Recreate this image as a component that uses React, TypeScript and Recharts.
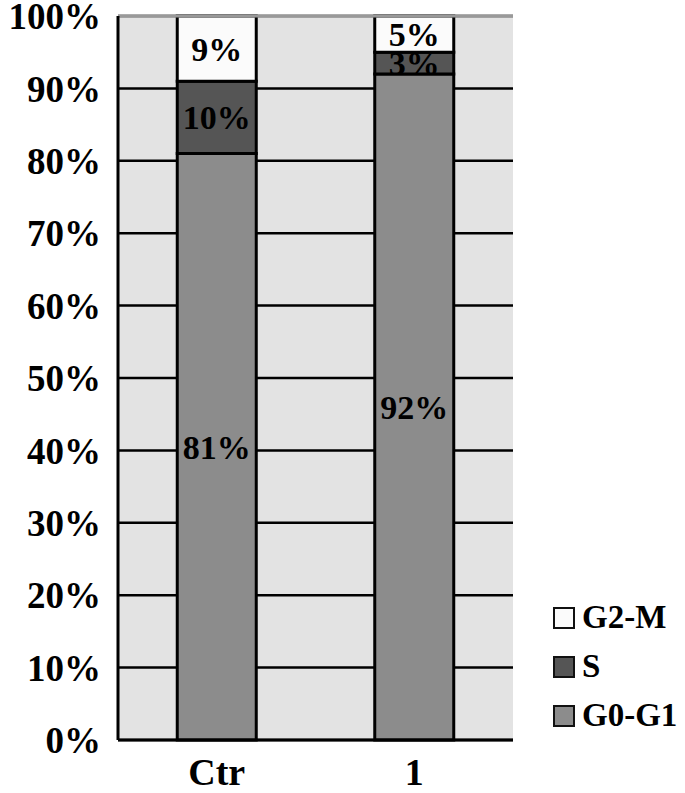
import { BarChart, Bar, XAxis, YAxis, CartesianGrid, ReferenceLine, LabelList } from 'recharts';

const groups = ['Ctr', '1'];
const g0g1 = [81, 92];
const sPhase = [10, 3];
const g2m = [9, 5];
const yTicks = [0, 10, 20, 30, 40, 50, 60, 70, 80, 90, 100];

const phases = [
  { key: 'g0g1', name: 'G0-G1', fill: '#8c8c8c' },
  { key: 's', name: 'S', fill: '#555555' },
  { key: 'g2m', name: 'G2-M', fill: '#fbfbfb' },
];

const data = groups.map((g, i) => ({ group: g, g0g1: g0g1[i], s: sPhase[i], g2m: g2m[i] }));

const FONT = '"Liberation Serif", "Times New Roman", serif';

function PhaseLegend() {
  return (
    <div
      style={{
        position: 'absolute',
        left: 553,
        top: 593,
        fontFamily: FONT,
        fontWeight: 'bold',
        fontSize: 33,
        color: '#000',
      }}
    >
      {[...phases].reverse().map((p) => (
        <div key={p.key} style={{ display: 'flex', alignItems: 'center', height: 49 }}>
          <span
            style={{
              width: 18,
              height: 18,
              background: p.fill,
              border: '2.5px solid #111',
              display: 'inline-block',
              marginRight: 7,
            }}
          />
          <span>{p.name}</span>
        </div>
      ))}
    </div>
  );
}

export default function App() {
  return (
    <div style={{ position: 'absolute', left: 0, top: 0, width: 685, height: 793, background: '#fff' }}>
      <BarChart
        width={685}
        height={793}
        data={data}
        margin={{ top: 16, right: 172, left: 0, bottom: 0 }}
        barCategoryGap="30%"
      >
        <CartesianGrid vertical={false} stroke="#000" strokeWidth={2.5} fill="#e3e3e3" fillOpacity={1} />
        <ReferenceLine y={100} stroke="#999" strokeWidth={3} />
        <XAxis
          dataKey="group"
          height={53}
          tickLine={false}
          tickSize={0}
          tickMargin={18}
          axisLine={{ stroke: '#000', strokeWidth: 3 }}
          tick={{ fill: '#000', fontSize: 38, fontWeight: 'bold', fontFamily: FONT }}
        />
        <YAxis
          width={118}
          domain={[0, 100]}
          ticks={yTicks}
          interval={0}
          tickLine={false}
          tickSize={0}
          tickMargin={17}
          tickFormatter={(v) => `${v}%`}
          axisLine={{ stroke: '#000', strokeWidth: 3 }}
          tick={{ fill: '#000', fontSize: 37, fontWeight: 'bold', fontFamily: FONT }}
        />
        {phases.map((p) => (
          <Bar
            key={p.key}
            dataKey={p.key}
            name={p.name}
            stackId="a"
            fill={p.fill}
            stroke="#000"
            strokeWidth={3}
            isAnimationActive={false}
          >
            <LabelList
              dataKey={p.key}
              position="center"
              formatter={(v) => `${v}%`}
              style={{ fill: '#000', fontSize: 34, fontWeight: 'bold', fontFamily: FONT }}
            />
          </Bar>
        ))}
      </BarChart>
      <PhaseLegend />
    </div>
  );
}
